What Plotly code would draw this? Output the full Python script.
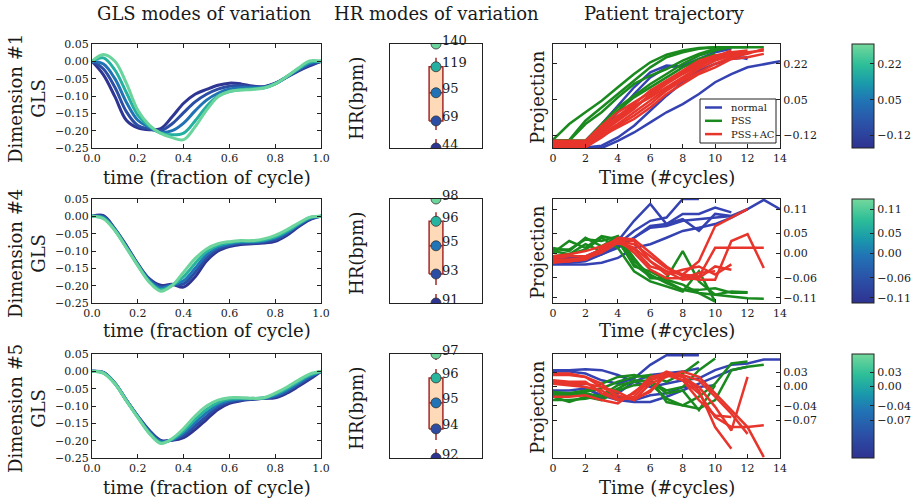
import plotly.graph_objects as go
from plotly.colors import sample_colorscale

FONT = "DejaVu Serif"
INK = "#1a1a1a"
W, H = 922, 502

# ---------------- data ----------------
t_cycle = [0.0, 0.05, 0.1, 0.15, 0.2, 0.25, 0.3, 0.35, 0.4, 0.45, 0.5,
           0.55, 0.6, 0.65, 0.7, 0.75, 0.8, 0.85, 0.9, 0.95, 1.0]

gls_dim1 = [
    [0, -0.039, -0.102, -0.170, -0.192, -0.197, -0.194, -0.160, -0.121, -0.095, -0.081, -0.069, -0.063, -0.065, -0.071, -0.073, -0.063, -0.046, -0.028, -0.013, 0],
    [0, -0.022, -0.075, -0.145, -0.185, -0.195, -0.200, -0.180, -0.148, -0.117, -0.095, -0.080, -0.072, -0.070, -0.073, -0.074, -0.064, -0.045, -0.026, -0.010, 0],
    [0, -0.008, -0.050, -0.118, -0.170, -0.190, -0.205, -0.200, -0.178, -0.143, -0.112, -0.092, -0.080, -0.076, -0.076, -0.075, -0.065, -0.045, -0.024, -0.006, 0],
    [0, 0.010, -0.025, -0.090, -0.155, -0.187, -0.207, -0.212, -0.207, -0.172, -0.130, -0.100, -0.087, -0.082, -0.079, -0.077, -0.065, -0.044, -0.022, -0.003, 0],
    [0, 0.020, 0.000, -0.063, -0.141, -0.184, -0.208, -0.220, -0.226, -0.189, -0.141, -0.102, -0.087, -0.083, -0.081, -0.077, -0.065, -0.044, -0.020, 0.001, 0],
]
gls_dim4 = [
    [0, 0.002, -0.036, -0.084, -0.137, -0.180, -0.199, -0.196, -0.204, -0.175, -0.129, -0.100, -0.087, -0.081, -0.079, -0.077, -0.072, -0.055, -0.031, -0.010, 0],
    [0, -0.001, -0.037, -0.086, -0.138, -0.182, -0.203, -0.197, -0.195, -0.162, -0.120, -0.095, -0.084, -0.078, -0.077, -0.074, -0.068, -0.051, -0.028, -0.008, 0],
    [0, -0.003, -0.038, -0.088, -0.140, -0.185, -0.207, -0.198, -0.186, -0.150, -0.111, -0.089, -0.080, -0.075, -0.074, -0.071, -0.063, -0.047, -0.025, -0.006, 0],
    [0, -0.005, -0.040, -0.090, -0.141, -0.188, -0.212, -0.199, -0.174, -0.136, -0.102, -0.084, -0.076, -0.072, -0.072, -0.068, -0.059, -0.043, -0.023, -0.004, 0],
    [0, -0.007, -0.041, -0.091, -0.142, -0.190, -0.216, -0.199, -0.161, -0.122, -0.094, -0.079, -0.073, -0.070, -0.070, -0.065, -0.055, -0.039, -0.020, -0.003, 0],
]
gls_dim5 = [
    [0, -0.003, -0.034, -0.083, -0.129, -0.170, -0.199, -0.199, -0.191, -0.168, -0.139, -0.110, -0.092, -0.085, -0.081, -0.078, -0.076, -0.063, -0.044, -0.023, 0],
    [0, -0.004, -0.034, -0.083, -0.130, -0.172, -0.201, -0.198, -0.185, -0.158, -0.130, -0.103, -0.088, -0.083, -0.080, -0.078, -0.073, -0.059, -0.039, -0.019, 0],
    [0, -0.004, -0.035, -0.084, -0.131, -0.175, -0.203, -0.197, -0.178, -0.148, -0.120, -0.096, -0.084, -0.080, -0.079, -0.077, -0.070, -0.055, -0.035, -0.015, 0],
    [0, -0.005, -0.035, -0.084, -0.132, -0.177, -0.206, -0.196, -0.172, -0.139, -0.110, -0.090, -0.080, -0.078, -0.078, -0.077, -0.066, -0.050, -0.030, -0.011, 0],
    [0, -0.005, -0.036, -0.085, -0.133, -0.179, -0.208, -0.194, -0.165, -0.129, -0.100, -0.083, -0.076, -0.076, -0.078, -0.076, -0.063, -0.046, -0.026, -0.008, 0],
]

# projection value of each mode (drives the colour of curves / markers)
mode_levels_1 = [-0.17, -0.08, 0.04, 0.18, 0.30]
mode_levels_4 = [-0.118, -0.07, -0.006, 0.07, 0.13]
mode_levels_5 = [-0.144, -0.105, -0.05, 0.014, 0.063]

# heart-rate modes (bpm) and their printed labels
hr_dim1 = [44.0, 69.0, 95.0, 119.0, 140.0]
hr_dim4 = [91.0, 92.95, 94.85, 96.5, 98.0]
hr_dim5 = [92.2, 93.6, 94.85, 96.05, 97.2]
hr_labels_1 = ["44", "69", "95", "119", "140"]
hr_labels_4 = ["91", "93", "95", "96", "98"]
hr_labels_5 = ["92", "94", "95", "96", "97"]

# patient trajectories (projection per cycle, cycle index = position)
normal_dim1 = [
    [-0.180, -0.180, -0.180, -0.180, -0.146, -0.106, -0.058, -0.010, 0.029, 0.077, 0.133, 0.172, 0.204, 0.220, 0.233],
    [-0.177, -0.177, -0.177, -0.169, -0.130, -0.074, -0.002, 0.069, 0.133, 0.188, 0.220, 0.244, 0.252],
    [-0.161, -0.161, -0.146, -0.066, 0.021, 0.109, 0.180, 0.212, 0.207, 0.236, 0.260, 0.260, 0.244],
    [-0.169, -0.169, -0.161, -0.098, -0.010, 0.077, 0.156, 0.204, 0.212, 0.244, 0.276, 0.292],
]
pss_dim1 = [
    [-0.141, -0.066, -0.010, 0.045, 0.109, 0.172, 0.228, 0.264, 0.284, 0.296, 0.300],
    [-0.146, -0.142, -0.050, 0.013, 0.077, 0.141, 0.204, 0.252, 0.276, 0.292, 0.300, 0.300, 0.300],
    [-0.146, -0.146, -0.066, -0.010, 0.061, 0.125, 0.164, 0.196, 0.236, 0.268, 0.292, 0.300, 0.300, 0.300],
    [-0.153, -0.146, -0.146, -0.066, 0.013, 0.069, 0.125, 0.172, 0.220, 0.260, 0.284, 0.300],
    [-0.146, -0.146, -0.146, -0.082, -0.002, 0.061, 0.109, 0.156, 0.204, 0.244, 0.268],
]
pssac_dim1 = [
    [-0.153, -0.153, -0.153, -0.098, -0.042, 0.013, 0.069, 0.125, 0.172, 0.212, 0.244, 0.268, 0.276, 0.284],
    [-0.169, -0.169, -0.169, -0.114, -0.066, -0.010, 0.045, 0.101, 0.149, 0.196, 0.236, 0.260, 0.276],
    [-0.161, -0.161, -0.161, -0.090, -0.034, 0.021, 0.061, 0.109, 0.156, 0.204, 0.252, 0.284],
    [-0.177, -0.177, -0.177, -0.130, -0.074, -0.026, 0.029, 0.093, 0.141, 0.180, 0.220, 0.252, 0.268, 0.292],
    [-0.146, -0.146, -0.146, -0.074, -0.010, 0.037, 0.085, 0.133, 0.180, 0.228, 0.260, 0.268],
    [-0.164, -0.164, -0.164, -0.122, -0.082, -0.042, 0.013, 0.077, 0.125, 0.172, 0.204, 0.244, 0.252, 0.268],
    [-0.174, -0.174, -0.174, -0.106, -0.050, 0.006, 0.077, 0.133, 0.180, 0.220, 0.252],
    [-0.155, -0.155, -0.155, -0.085, -0.026, 0.029, 0.093, 0.141, 0.188, 0.236, 0.260, 0.276, 0.284],
]

normal_dim4 = [
    [-0.023, -0.023, -0.019, -0.002, 0.018, 0.039, 0.064, 0.068, 0.081, 0.085, 0.089, 0.093, 0.110, 0.133, 0.110],
    [-0.011, -0.011, -0.007, 0.010, 0.031, 0.081, 0.123, 0.073, 0.098, 0.098, 0.114, 0.102],
    [-0.015, -0.015, -0.011, 0.006, 0.023, 0.056, 0.081, 0.089, 0.135, 0.135],
    [-0.019, -0.019, -0.015, -0.002, 0.014, 0.039, 0.068, 0.073, 0.085, 0.056, 0.098, 0.093],
    [-0.027, -0.027, -0.027, -0.023, -0.011, 0.014, 0.023, 0.039, 0.056, 0.064, 0.073, 0.089, 0.110],
]
pss_dim4 = [
    [0.010, 0.010, 0.035, 0.031, 0.043, -0.019, -0.052, -0.073, -0.090, -0.090, -0.086, -0.097, -0.097],
    [0.002, 0.031, 0.014, 0.043, 0.035, -0.032, -0.044, -0.065, -0.077, -0.098, -0.119],
    [0.014, 0.006, 0.039, 0.018, 0.043, -0.011, -0.061, -0.061, 0.006, -0.069, -0.102, -0.094, -0.096],
    [-0.007, -0.002, 0.010, 0.039, 0.014, -0.044, -0.069, -0.082, -0.094, -0.044, -0.119],
    [0.006, -0.002, 0.023, 0.006, 0.031, -0.027, -0.057, -0.069, -0.090, -0.098, -0.102, -0.107, -0.111, -0.112],
]
pssac_dim4 = [
    [-0.011, -0.007, -0.007, 0.010, 0.031, 0.023, -0.007, -0.036, -0.052, -0.019, 0.068, 0.089, 0.110],
    [-0.019, -0.019, -0.015, 0.006, 0.035, 0.031, -0.019, -0.044, -0.052, -0.057, 0.014, 0.014, 0.014, 0.014],
    [-0.015, -0.015, -0.011, 0.010, 0.039, 0.035, 0.002, -0.032, -0.057, -0.065, -0.065, 0.031, 0.048, -0.036],
    [-0.023, -0.019, -0.015, 0.014, 0.031, 0.014, -0.019, -0.052, -0.040, -0.032, -0.052, -0.027],
    [-0.007, -0.002, 0.006, 0.018, 0.035, 0.002, -0.040, -0.061, -0.061, -0.048, -0.044],
    [-0.019, -0.019, -0.011, 0.002, 0.027, 0.010, -0.032, -0.044, -0.065, -0.061, -0.032, -0.040],
]

normal_dim5 = [
    [0.034, 0.034, 0.036, 0.034, 0.024, 0.010, -0.001, 0.006, 0.013, 0.017, 0.034, 0.045, 0.048, 0.056, 0.056],
    [0.031, 0.031, 0.027, 0.013, 0.006, 0.017, 0.045, 0.065, 0.065, 0.065],
    [-0.008, -0.008, -0.004, -0.018, -0.028, -0.032, -0.032, -0.021, -0.008, 0.006, 0.020, 0.034, 0.041],
    [0.006, 0.006, -0.001, -0.021, -0.021, -0.028, -0.018, -0.014, -0.001, -0.001, 0.003],
    [-0.014, -0.014, -0.018, -0.025, -0.014, 0.010, 0.024, 0.027, 0.031, 0.038],
]
pss_dim5 = [
    [-0.011, -0.014, -0.011, -0.004, 0.010, 0.020, 0.024, 0.010, 0.027, 0.052],
    [-0.021, -0.032, -0.021, -0.028, -0.008, 0.003, 0.006, -0.025, -0.039, -0.021, 0.006, 0.048, 0.052],
    [-0.018, -0.018, -0.014, -0.021, -0.004, 0.013, 0.010, -0.008, -0.001, 0.034, 0.058],
    [-0.014, -0.014, -0.008, 0.006, 0.020, 0.024, 0.017, -0.032, -0.039, -0.046, -0.028, 0.034, 0.041, 0.045],
    [-0.028, -0.028, -0.025, -0.018, 0.003, 0.010, 0.013, -0.014, -0.008, -0.049, 0.003],
]
pssac_dim5 = [
    [0.027, 0.027, 0.020, -0.001, -0.018, -0.028, 0.006, 0.020, 0.031, 0.020, -0.014, -0.049, -0.084, -0.146],
    [0.024, 0.024, 0.020, 0.006, -0.025, -0.025, -0.011, 0.027, 0.020, -0.001, -0.042, -0.091, 0.020],
    [0.013, 0.010, 0.010, -0.014, -0.028, -0.014, 0.020, 0.027, 0.013, -0.014, -0.063, -0.084, -0.084, -0.080],
    [0.006, 0.003, -0.001, -0.008, -0.028, -0.021, 0.013, 0.031, 0.020, -0.008, -0.084, -0.129],
    [0.010, 0.006, 0.006, -0.001, -0.011, -0.028, -0.008, 0.024, 0.024, 0.013, -0.021, -0.056, -0.098],
    [-0.021, -0.021, -0.018, -0.028, -0.035, -0.011, 0.013, 0.024, 0.013, -0.028, -0.060, -0.063],
]

proj_range_1 = [-0.18, 0.315]
proj_range_4 = [-0.1225, 0.135]
proj_range_5 = [-0.148, 0.0675]
proj_ticks_1 = [-0.12, 0.05, 0.22]
proj_ticks_4 = [-0.11, -0.06, 0.00, 0.05, 0.11]
proj_ticks_5 = [-0.07, -0.04, 0.00, 0.03]

dim_names = ["Dimension #1", "Dimension #4", "Dimension #5"]
group_names = ["normal", "PSS", "PSS+AC"]
group_colors = ["#3442b2", "#1a8a1f", "#e8352c"]

# ---------------- styling ----------------
CS = [[0.0, "#2e3290"], [0.22, "#2c4fa6"], [0.45, "#2173b5"], [0.62, "#1a9aab"],
      [0.8, "#2dbe98"], [1.0, "#74d89c"]]

col_px = [(92, 321), (390, 482), (553, 780)]
row_px = [(44, 148), (199, 303), (354, 458)]
xtitle_py = [177, 330, 487]


def fx(p):
    return p / W


def fy(p):
    return 1 - p / H


def names(r, c):
    n = r * 3 + c + 1
    s = "" if n == 1 else str(n)
    return "x" + s, "y" + s, "xaxis" + s, "yaxis" + s


rows = [
    dict(gls=gls_dim1, lev=mode_levels_1, hr=hr_dim1, lab=hr_labels_1,
         groups=[normal_dim1, pss_dim1, pssac_dim1], rng=proj_range_1, ticks=proj_ticks_1),
    dict(gls=gls_dim4, lev=mode_levels_4, hr=hr_dim4, lab=hr_labels_4,
         groups=[normal_dim4, pss_dim4, pssac_dim4], rng=proj_range_4, ticks=proj_ticks_4),
    dict(gls=gls_dim5, lev=mode_levels_5, hr=hr_dim5, lab=hr_labels_5,
         groups=[normal_dim5, pss_dim5, pssac_dim5], rng=proj_range_5, ticks=proj_ticks_5),
]

fig = go.Figure()
layout = {}
annotations = []
shapes = []

axis_common = dict(showline=True, linecolor="#222", linewidth=1, mirror="allticks",
                   ticks="inside", ticklen=4, tickwidth=1, tickcolor="#222",
                   showgrid=False, zeroline=False, automargin=False,
                   tickfont=dict(family=FONT, size=11, color=INK))

BOX_RED = "#a52a2a"
BOX_FILL = "#ffdab9"
BOX_HALF = 0.15
TFONT = dict(family=FONT, size=18, color=INK)

for r, row in enumerate(rows):
    y0p, y1p = row_px[r]
    ydom = [fy(y1p), fy(y0p)]
    cmin, cmax = row["rng"]
    fracs = [(v - cmin) / (cmax - cmin) for v in row["lev"]]
    cols = sample_colorscale(CS, fracs)

    # ---- GLS modes ----
    xa, ya, xk, yk = names(r, 0)
    for k, ys in enumerate(row["gls"]):
        fig.add_trace(go.Scatter(x=t_cycle, y=ys, mode="lines", xaxis=xa, yaxis=ya,
                                 line=dict(color=cols[k], width=3, shape="spline"),
                                 showlegend=False, hoverinfo="skip"))
    layout[xk] = dict(axis_common, domain=[fx(col_px[0][0]), fx(col_px[0][1])], anchor=ya,
                      range=[0, 1], tickvals=[0, 0.2, 0.4, 0.6, 0.8, 1.0], tickformat=".1f")
    layout[yk] = dict(axis_common, domain=ydom, anchor=xa, range=[-0.25, 0.05],
                      tickvals=[-0.25, -0.2, -0.15, -0.1, -0.05, 0.0, 0.05], tickformat=".2f")

    # ---- HR modes ----
    xa, ya, xk, yk = names(r, 1)
    hr = row["hr"]
    fig.add_trace(go.Scatter(x=[1, 1], y=[hr[3], hr[4]], mode="lines", xaxis=xa, yaxis=ya,
                             line=dict(color=BOX_RED, width=1.5, dash="dash"),
                             showlegend=False, hoverinfo="skip"))
    fig.add_trace(go.Scatter(x=[1, 1], y=[hr[0], hr[1]], mode="lines", xaxis=xa, yaxis=ya,
                             line=dict(color=BOX_RED, width=1.5, dash="dash"),
                             showlegend=False, hoverinfo="skip"))
    fig.add_trace(go.Scatter(x=[1 - BOX_HALF, 1 + BOX_HALF, 1 + BOX_HALF, 1 - BOX_HALF, 1 - BOX_HALF],
                             y=[hr[1], hr[1], hr[3], hr[3], hr[1]], mode="lines", fill="toself",
                             fillcolor=BOX_FILL, xaxis=xa, yaxis=ya,
                             line=dict(color=BOX_RED, width=1.5),
                             showlegend=False, hoverinfo="skip"))
    fig.add_trace(go.Scatter(x=[1 - BOX_HALF, 1 + BOX_HALF], y=[hr[2], hr[2]], mode="lines",
                             xaxis=xa, yaxis=ya, line=dict(color=BOX_RED, width=1.5),
                             showlegend=False, hoverinfo="skip"))
    fig.add_trace(go.Scatter(
        x=[1] * len(hr), y=hr, mode="markers", xaxis=xa, yaxis=ya,
        marker=dict(size=10, color=row["lev"], colorscale=CS, cmin=cmin, cmax=cmax,
                    line=dict(color="#333", width=0.8), showscale=True,
                    colorbar=dict(x=fx(852), xanchor="left", xpad=0,
                                  y=fy(y0p), yanchor="top", ypad=0,
                                  len=y1p - y0p, lenmode="pixels",
                                  thickness=22, thicknessmode="pixels",
                                  outlinewidth=1, outlinecolor="#222",
                                  tickvals=row["ticks"], tickformat=".2f",
                                  ticks="inside", ticklen=4, tickcolor="#222",
                                  tickfont=dict(family=FONT, size=11, color=INK))),
        showlegend=False, hoverinfo="skip"))
    for v, lab in zip(hr, row["lab"]):
        annotations.append(dict(x=1, y=v, xref=xa, yref=ya, text=lab, showarrow=False,
                                xanchor="left", yanchor="middle", xshift=4, yshift=4,
                                font=dict(family=FONT, size=13, color=INK)))
    layout[xk] = dict(axis_common, domain=[fx(col_px[1][0]), fx(col_px[1][1])], anchor=ya,
                      range=[0, 2], ticks="", showticklabels=False)
    layout[yk] = dict(axis_common, domain=ydom, anchor=xa, range=[hr[0], hr[4]],
                      ticks="", showticklabels=False)

    # ---- patient trajectories ----
    xa, ya, xk, yk = names(r, 2)
    for g, lines in enumerate(row["groups"]):
        for i, ys in enumerate(lines):
            fig.add_trace(go.Scatter(x=list(range(len(ys))), y=ys, mode="lines",
                                     xaxis=xa, yaxis=ya, name=group_names[g],
                                     showlegend=False,
                                     line=dict(color=group_colors[g], width=2.5),
                                     hoverinfo="skip"))
    layout[xk] = dict(axis_common, domain=[fx(col_px[2][0]), fx(col_px[2][1])], anchor=ya,
                      range=[0, 14], tickvals=list(range(0, 15, 2)))
    layout[yk] = dict(axis_common, domain=ydom, anchor=xa, range=row["rng"], side="right",
                      tickvals=row["ticks"], tickformat=".2f")

    # ---- text labels ----
    ymid = (y0p + y1p) / 2
    annotations.append(dict(x=fx(27), y=fy(ymid + 3), xref="paper", yref="paper",
                            text=dim_names[r] + "<br>GLS", textangle=-90, showarrow=False,
                            xanchor="center", yanchor="middle", font=TFONT))
    annotations.append(dict(x=fx(356), y=fy(ymid + 3), xref="paper", yref="paper",
                            text="HR(bpm)", textangle=-90, showarrow=False,
                            xanchor="center", yanchor="middle", font=TFONT))
    annotations.append(dict(x=fx(537), y=fy(ymid + 1), xref="paper", yref="paper",
                            text="Projection", textangle=-90, showarrow=False,
                            xanchor="center", yanchor="middle", font=TFONT))
    annotations.append(dict(x=fx((col_px[0][0] + col_px[0][1]) / 2), y=fy(xtitle_py[r]),
                            xref="paper", yref="paper", text="time (fraction of cycle)",
                            showarrow=False, xanchor="center", yanchor="middle", font=TFONT))
    annotations.append(dict(x=fx((col_px[2][0] + col_px[2][1]) / 2), y=fy(xtitle_py[r]),
                            xref="paper", yref="paper", text="Time (#cycles)",
                            showarrow=False, xanchor="center", yanchor="middle", font=TFONT))

for txt, cx in [("GLS modes of variation", 204), ("HR modes of variation", 436),
                ("Patient trajectory", 664)]:
    annotations.append(dict(x=fx(cx), y=fy(14), xref="paper", yref="paper", text=txt,
                            showarrow=False, xanchor="center", yanchor="middle", font=TFONT))

# ---- legend box (row 1 patient panel) ----
LEG = dict(x0=700, x1=776, y0=99, y1=143)
shapes.append(dict(type="rect", xref="paper", yref="paper",
                   x0=fx(LEG["x0"]), x1=fx(LEG["x1"]), y0=fy(LEG["y1"]), y1=fy(LEG["y0"]),
                   line=dict(color="#222", width=1), fillcolor="white", layer="above"))
for g, name in enumerate(group_names):
    yc = 107.5 + 13.3 * g
    shapes.append(dict(type="line", xref="paper", yref="paper",
                       x0=fx(705), x1=fx(722), y0=fy(yc), y1=fy(yc),
                       line=dict(color=group_colors[g], width=2.5), layer="above"))
    annotations.append(dict(x=fx(729), y=fy(yc), xref="paper", yref="paper", text=name,
                            showarrow=False, xanchor="left", yanchor="middle",
                            font=dict(family=FONT, size=10, color=INK)))

fig.update_layout(
    width=W, height=H, margin=dict(l=0, r=0, t=0, b=0),
    paper_bgcolor="white", plot_bgcolor="white",
    font=dict(family=FONT, color=INK),
    showlegend=False,
    hovermode=False,
    annotations=annotations,
    shapes=shapes,
    **layout,
)

fig.write_html(
    "out.html",
    config={"displayModeBar": False, "staticPlot": True},
    post_script="document.body.style.margin='0px';document.body.style.padding='0px';"
                "document.body.style.overflow='hidden';",
)
